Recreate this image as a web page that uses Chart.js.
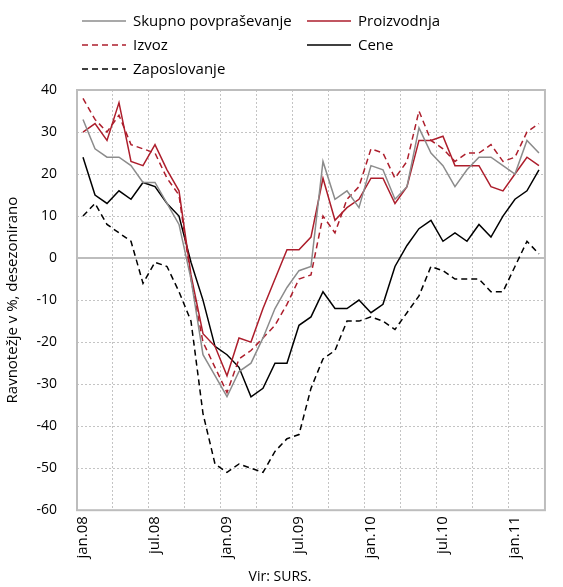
<!DOCTYPE html>
<html>
<head>
<meta charset="utf-8">
<script src="https://cdn.jsdelivr.net/npm/chart.js@4"></script>
<style>
html, body { margin: 0; padding: 0; background: #fff; }
#okno { width: 563px; height: 587px; }
</style>
</head>
<body>
<div id="okno"><canvas id="graf"></canvas></div>
<script>
// meseci jan.08 - mar.11
const meseci = [
  'jan.08','feb.08','mar.08','apr.08','maj.08','jun.08','jul.08','avg.08','sep.08','okt.08','nov.08','dec.08',
  'jan.09','feb.09','mar.09','apr.09','maj.09','jun.09','jul.09','avg.09','sep.09','okt.09','nov.09','dec.09',
  'jan.10','feb.10','mar.10','apr.10','maj.10','jun.10','jul.10','avg.10','sep.10','okt.10','nov.10','dec.10',
  'jan.11','feb.11','mar.11'
];

const skupnoPovprasevanje = [33, 26, 24, 24, 22, 18, 18, 13, 8, -5, -23, -28, -33, -27, -25, -19, -12, -7, -3, -2,
  23, 14, 16, 12, 22, 21, 14, 17, 31, 25, 22, 17, 21, 24, 24, 22, 20, 28, 25];
const proizvodnja = [30, 32, 28, 37, 23, 22, 27, 21, 16, -4, -18, -21, -28, -19, -20, -12, -5, 2, 2, 5,
  19, 9, 12, 14, 19, 19, 13, 17, 28, 28, 29, 22, 22, 22, 17, 16, 20, 24, 22];
const izvoz = [38, 33, 30, 34, 27, 26, 25, 19, 15, -5, -20, -26, -32, -24, -22, -19, -16, -11, -5, -4,
  10, 6, 14, 17, 26, 25, 19, 23, 35, 28, 26, 23, 25, 25, 27, 23, 24, 30, 32];
const cene = [24, 15, 13, 16, 14, 18, 17, 13, 10, -1, -10, -21, -23, -26, -33, -31, -25, -25, -16, -14,
  -8, -12, -12, -10, -13, -11, -2, 3, 7, 9, 4, 6, 4, 8, 5, 10, 14, 16, 21];
const zaposlovanje = [10, 13, 8, 6, 4, -6, -1, -2, -8, -15, -37, -49, -51, -49, -50, -51, -46, -43, -42, -31,
  -24, -22, -15, -15, -14, -15, -17, -13, -9, -2, -3, -5, -5, -5, -8, -8, -2, 4, 1];

const pisava = '"Open Sans", "DejaVu Sans", sans-serif';
const siva = '#8c8c8c';
const rdeca = '#ad1e2c';
const mreza = '#c4c4c4';

// okvir in nicelna crta
const okvir = {
  id: 'okvir',
  beforeDatasetsDraw(chart) {
    const { ctx, chartArea: a } = chart;
    const y0 = chart.scales.y.getPixelForValue(0);
    ctx.save();
    ctx.setLineDash([]);
    ctx.strokeStyle = '#bdbdbd';
    ctx.lineWidth = 2;
    ctx.beginPath();
    ctx.moveTo(a.left, y0);
    ctx.lineTo(a.right, y0);
    ctx.stroke();
    ctx.strokeRect(a.left, a.top, a.right - a.left, a.bottom - a.top);
    ctx.restore();
  }
};

// legenda v dveh stolpcih
const legenda = {
  id: 'legenda',
  afterDraw(chart) {
    const ctx = chart.ctx;
    const mesta = [[82, 21], [307, 21], [82, 45], [307, 45], [82, 69]];
    chart.data.datasets.forEach((ds, i) => {
      const [x, y] = mesta[i];
      ctx.save();
      ctx.strokeStyle = ds.borderColor;
      ctx.lineWidth = ds.borderWidth;
      ctx.setLineDash(ds.borderDash || []);
      ctx.beginPath();
      ctx.moveTo(x, y);
      ctx.lineTo(x + 44, y);
      ctx.stroke();
      ctx.setLineDash([]);
      ctx.fillStyle = '#000';
      ctx.font = '15px ' + pisava;
      ctx.textBaseline = 'middle';
      ctx.fillText(ds.label, x + 51, y + 1);
      ctx.restore();
    });
  }
};

const serija = (label, data, barva, crtkano) => ({
  label: label,
  data: data,
  borderColor: barva,
  backgroundColor: barva,
  borderWidth: 1.5,
  borderDash: crtkano ? [6, 4] : [],
  pointRadius: 0,
  tension: 0,
  fill: false
});

new Chart(document.getElementById('graf'), {
  type: 'line',
  data: {
    labels: meseci,
    datasets: [
      serija('Skupno povpraševanje', skupnoPovprasevanje, siva, false),
      serija('Proizvodnja', proizvodnja, rdeca, false),
      serija('Izvoz', izvoz, rdeca, true),
      serija('Cene', cene, '#000', false),
      serija('Zaposlovanje', zaposlovanje, '#000', true)
    ]
  },
  plugins: [okvir, legenda],
  options: {
    responsive: true,
    maintainAspectRatio: false,
    animation: false,
    layout: { padding: { top: 90, left: 0, right: 3, bottom: 0 } },
    plugins: {
      legend: { display: false },
      tooltip: { enabled: false },
      title: {
        display: true,
        text: 'Vir: SURS.',
        position: 'bottom',
        color: '#000',
        font: { family: pisava, size: 14, weight: 'normal' },
        padding: { top: 0, bottom: 2 }
      }
    },
    scales: {
      x: {
        type: 'category',
        offset: true,
        grid: {
          offset: true,
          drawTicks: false,
          lineWidth: 1,
          color: c => (c.index % 3 === 0 ? mreza : 'rgba(0,0,0,0)')
        },
        border: { display: false, dash: [2, 2] },
        ticks: {
          autoSkip: false,
          minRotation: 90,
          maxRotation: 90,
          padding: 6,
          color: '#000',
          font: { family: pisava, size: 15 },
          callback: function (v, i) { return i % 6 === 0 ? this.getLabelForValue(v) : ''; }
        },
        afterFit: s => { s.height = 58; }
      },
      y: {
        min: -60,
        max: 40,
        grid: {
          drawTicks: false,
          lineWidth: 1,
          color: mreza
        },
        border: { display: false, dash: [2, 2] },
        ticks: {
          stepSize: 10,
          padding: 20,
          color: '#000',
          font: { family: pisava, size: 14 }
        },
        title: {
          display: true,
          text: 'Ravnotežje v %, desezonirano',
          color: '#000',
          font: { family: pisava, size: 15 },
          padding: { top: 4, bottom: 0 }
        },
        afterFit: s => { s.width = 77; }
      }
    }
  }
});
</script>
</body>
</html>
